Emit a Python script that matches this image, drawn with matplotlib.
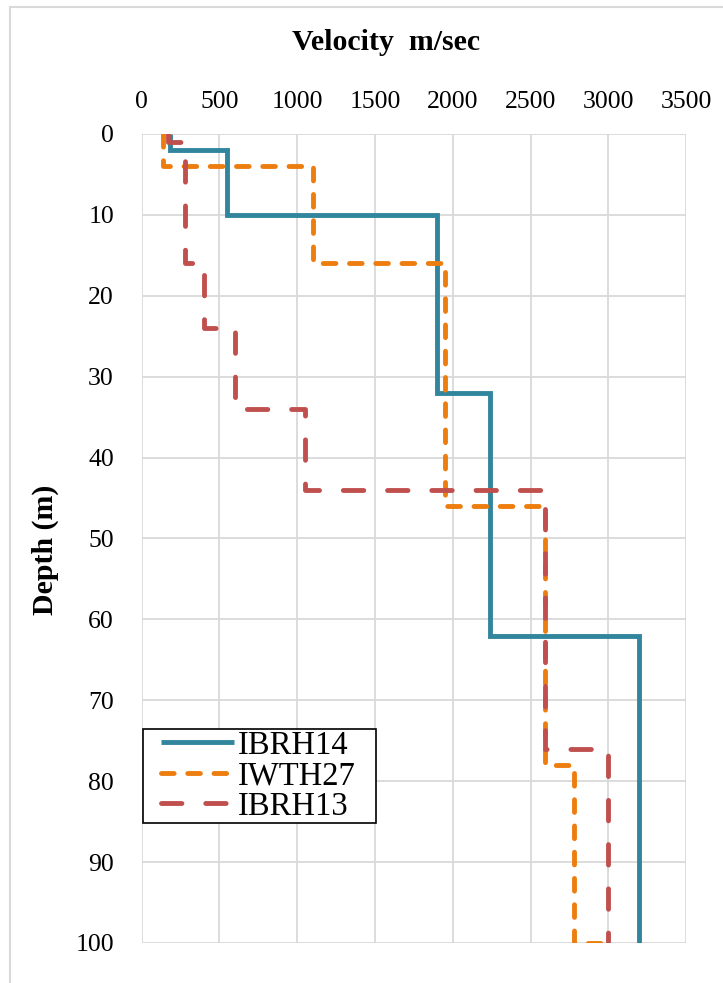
import matplotlib
matplotlib.use("Agg")
import matplotlib.pyplot as plt
from matplotlib.lines import Line2D
from matplotlib.legend_handler import HandlerLine2D

# Layered shear-wave velocity profiles: layer top depths (m) and layer velocities (m/s)
ibrh14_tops = [0, 2, 10, 32, 62]
ibrh14_vel = [180, 550, 1900, 2240, 3200]
ibrh14_bottom = 100

iwth27_tops = [0, 4, 16, 46, 78, 100]
iwth27_vel = [140, 1100, 1950, 2590, 2780, 3000]
iwth27_bottom = 100

ibrh13_tops = [0, 1, 16, 24, 34, 44, 76]
ibrh13_vel = [170, 280, 400, 600, 1050, 2590, 3000]
ibrh13_bottom = 100

x_ticks = [0, 500, 1000, 1500, 2000, 2500, 3000, 3500]
y_ticks = [0, 10, 20, 30, 40, 50, 60, 70, 80, 90, 100]


def step_profile(tops, vel, bottom):
    """Turn layer tops/velocities into a stair-step polyline (velocity, depth)."""
    xs, ys = [], []
    bounds = list(tops[1:]) + [bottom]
    for i, v in enumerate(vel):
        xs += [v, v]
        ys += [tops[i], bounds[i]]
    return xs, ys


class InsetLine(HandlerLine2D):
    """Legend line handle that starts a little inside its handle box."""
    def __init__(self, inset=0.18, **kw):
        super().__init__(**kw)
        self.inset = inset

    def get_xdata(self, legend, xdescent, ydescent, width, height, fontsize):
        xd, xm = super().get_xdata(legend, xdescent, ydescent, width, height, fontsize)
        xd = list(xd)
        xd[0] = xd[0] + self.inset * width
        return xd, xm


plt.rcParams["font.family"] = ["Liberation Serif", "DejaVu Serif"]

fig = plt.figure(figsize=(7.23, 9.83), dpi=100)
ax = fig.add_axes([0.196, 0.0407, 0.753, 0.823])

teal = "#31859C"
orange = "#ED7D0F"
red = "#C0504D"
lw = 3.5

x, y = step_profile(ibrh14_tops, ibrh14_vel, ibrh14_bottom)
l1, = ax.plot(x, y, color=teal, lw=lw, solid_capstyle="butt", solid_joinstyle="miter",
              label="IBRH14", zorder=3)

x, y = step_profile(iwth27_tops, iwth27_vel, iwth27_bottom)
l2, = ax.plot(x, y, color=orange, lw=lw, dashes=(2.6, 2.8), dash_capstyle="round",
              label="IWTH27", zorder=4)

x, y = step_profile(ibrh13_tops, ibrh13_vel, ibrh13_bottom)
l3, = ax.plot(x, y, color=red, lw=lw, dashes=(4.2, 4.9), dash_capstyle="round",
              label="IBRH13", zorder=5)

ax.set_xlim(0, 3500)
ax.set_ylim(100, 0)
ax.set_xticks(x_ticks)
ax.set_yticks(y_ticks)
ax.xaxis.tick_top()
ax.tick_params(axis="both", length=0, labelsize=18.5)
ax.tick_params(axis="x", pad=15)
ax.tick_params(axis="y", pad=20)
ax.grid(True, color="#D9D9D9", lw=1.3)
ax.set_axisbelow(True)
for s in ax.spines.values():
    s.set_visible(False)

fig.text(386 / 723, 1 - 42 / 983, "Velocity  m/sec", ha="center", va="center",
         fontsize=21.5, fontweight="bold")
fig.text(45 / 723, 1 - 550 / 983, "Depth (m)", ha="center", va="center",
         rotation=90, fontsize=21.5, fontweight="bold")

handler = InsetLine(inset=0.18)
leg = ax.legend(handles=[l1, l2, l3], loc="upper left",
                bbox_to_anchor=(0.002, 0.145, 0.428, 0.12), mode="expand",
                borderaxespad=0, fontsize=23.5, handlelength=2.75, handletextpad=0.12,
                labelspacing=0.0, borderpad=0.05, fancybox=False, framealpha=1,
                handler_map={l1: handler, l2: handler, l3: handler})
leg.get_frame().set_edgecolor("black")
leg.get_frame().set_linewidth(1.2)

# thin outer chart border
fig.add_artist(Line2D([10 / 723, 1], [1 - 7 / 983, 1 - 7 / 983], color="#D9D9D9", lw=1.5))
fig.add_artist(Line2D([10 / 723, 10 / 723], [0, 1 - 7 / 983], color="#D9D9D9", lw=1.5))

fig.savefig("out.png", dpi=100)
